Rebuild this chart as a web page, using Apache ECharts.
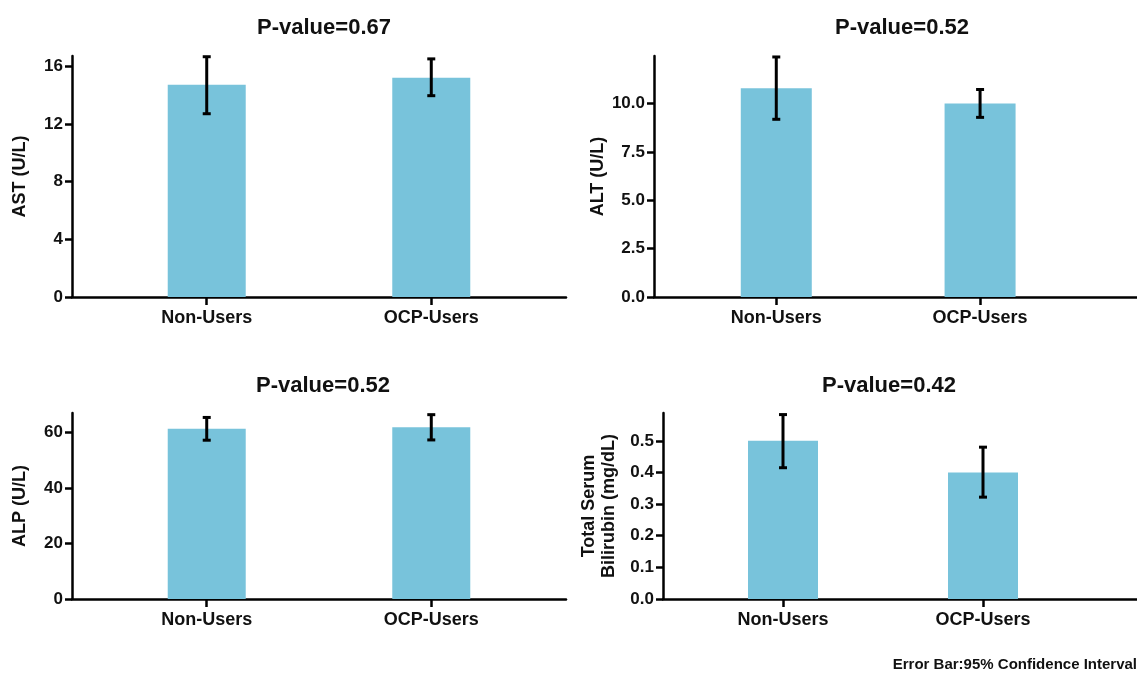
<!DOCTYPE html>
<html>
<head>
<meta charset="utf-8">
<script src="https://cdn.jsdelivr.net/npm/echarts@6/dist/echarts.min.js"></script>
<style>
  html, body { margin: 0; padding: 0; background: #fff; }
  #chart { width: 1137px; height: 673px; }
</style>
</head>
<body>
<div id="chart"></div>
<script>
const categories = ['Non-Users', 'OCP-Users'];

const astMean = [14.7, 15.2];
const astLow = [12.7, 13.95];
const astHigh = [16.65, 16.5];
const astTicks = [0, 4, 8, 12, 16];

const altMean = [10.78, 10.0];
const altLow = [9.18, 9.28];
const altHigh = [12.4, 10.72];
const altTicks = [0, 2.5, 5, 7.5, 10];

const alpMean = [61.3, 61.9];
const alpLow = [57.2, 57.3];
const alpHigh = [65.4, 66.4];
const alpTicks = [0, 20, 40, 60];

const tsbMean = [0.5, 0.4];
const tsbLow = [0.415, 0.322];
const tsbHigh = [0.583, 0.48];
const tsbTicks = [0, 0.1, 0.2, 0.3, 0.4, 0.5];

const pValues = ['P-value=0.67', 'P-value=0.52', 'P-value=0.52', 'P-value=0.42'];

const FONT = 'Liberation Sans';
const BAR = '#78C3DB';

const panels = [
  { mean: astMean, low: astLow, high: astHigh, ticks: astTicks, max: 16.7, dec: 0, name: 'AST (U/L)', gap: 42,
    grid: { left: 72, right: 571, top: 56, bottom: 376 }, xmax: 1.6, barW: 78 },
  { mean: altMean, low: altLow, high: altHigh, ticks: altTicks, max: 12.45, dec: 1, name: 'ALT (U/L)', gap: 42,
    grid: { left: 654, right: 0, top: 56, bottom: 376 }, xmax: 1.77, barW: 71 },
  { mean: alpMean, low: alpLow, high: alpHigh, ticks: alpTicks, max: 67, dec: 0, name: 'ALP (U/L)', gap: 42,
    grid: { left: 72, right: 571, top: 413, bottom: 74 }, xmax: 1.6, barW: 78 },
  { mean: tsbMean, low: tsbLow, high: tsbHigh, ticks: tsbTicks, max: 0.588, dec: 1, name: 'Total Serum\nBilirubin (mg/dL)', gap: 44,
    grid: { left: 663, right: 0, top: 413, bottom: 74 }, xmax: 1.77, barW: 70 }
];

const titlePos = [[319, 12], [897, 12], [318, 370], [884, 370]];

const axisLine = { show: true, onZero: false, lineStyle: { color: '#000', width: 2.5 } };
const axisTick = { show: true, length: 7, lineStyle: { color: '#000', width: 2.5 } };

const grid = [], xAxis = [], yAxis = [], series = [];

panels.forEach((p, i) => {
  grid.push(p.grid);
  xAxis.push({
    type: 'value', gridIndex: i, min: -0.6, max: p.xmax,
    splitLine: { show: false },
    axisLine: axisLine,
    axisTick: { ...axisTick, length: 8, customValues: [0, 1] },
    axisLabel: {
      customValues: [0, 1], margin: 12,
      color: '#111', fontFamily: FONT, fontWeight: 'bold', fontSize: 18,
      formatter: v => categories[Math.round(v)]
    }
  });
  yAxis.push({
    type: 'value', gridIndex: i, min: 0, max: p.max,
    name: p.name, nameLocation: 'middle', nameGap: p.gap, nameRotate: 90,
    nameTextStyle: { color: '#111', fontFamily: FONT, fontWeight: 'bold', fontSize: 18, lineHeight: 20 },
    splitLine: { show: false },
    axisLine: axisLine,
    axisTick: { ...axisTick, customValues: p.ticks },
    axisLabel: {
      customValues: p.ticks, margin: 9,
      color: '#111', fontFamily: FONT, fontWeight: 'bold', fontSize: 17,
      formatter: v => v.toFixed(p.dec)
    }
  });
  series.push({
    type: 'bar', xAxisIndex: i, yAxisIndex: i, barWidth: p.barW,
    itemStyle: { color: BAR },
    data: p.mean.map((m, k) => [k, m])
  });
  series.push({
    type: 'custom', xAxisIndex: i, yAxisIndex: i, z: 5,
    data: p.low.map((lo, k) => [k, lo, p.high[k]]),
    renderItem(params, api) {
      const lo = api.coord([api.value(0), api.value(1)]);
      const hi = api.coord([api.value(0), api.value(2)]);
      const w = 4;
      const style = { stroke: '#000', lineWidth: 3 };
      return {
        type: 'group',
        children: [
          { type: 'line', shape: { x1: lo[0], y1: lo[1], x2: hi[0], y2: hi[1] }, style },
          { type: 'line', shape: { x1: hi[0] - w, y1: hi[1], x2: hi[0] + w, y2: hi[1] }, style },
          { type: 'line', shape: { x1: lo[0] - w, y1: lo[1], x2: lo[0] + w, y2: lo[1] }, style }
        ]
      };
    }
  });
});

const title = pValues.map((t, i) => ({
  text: t, left: titlePos[i][0], top: titlePos[i][1], textAlign: 'center',
  textStyle: { color: '#111', fontFamily: FONT, fontWeight: 'bold', fontSize: 22 }
}));
title.push({
  text: 'Error Bar:95% Confidence Interval', right: 0, top: 657, padding: 0,
  textStyle: { color: '#111', fontFamily: FONT, fontWeight: 'bold', fontSize: 15 }
});

const chart = echarts.init(document.getElementById('chart'));
chart.setOption({
  animation: false,
  backgroundColor: '#fff',
  title, grid, xAxis, yAxis, series
});
</script>
</body>
</html>
